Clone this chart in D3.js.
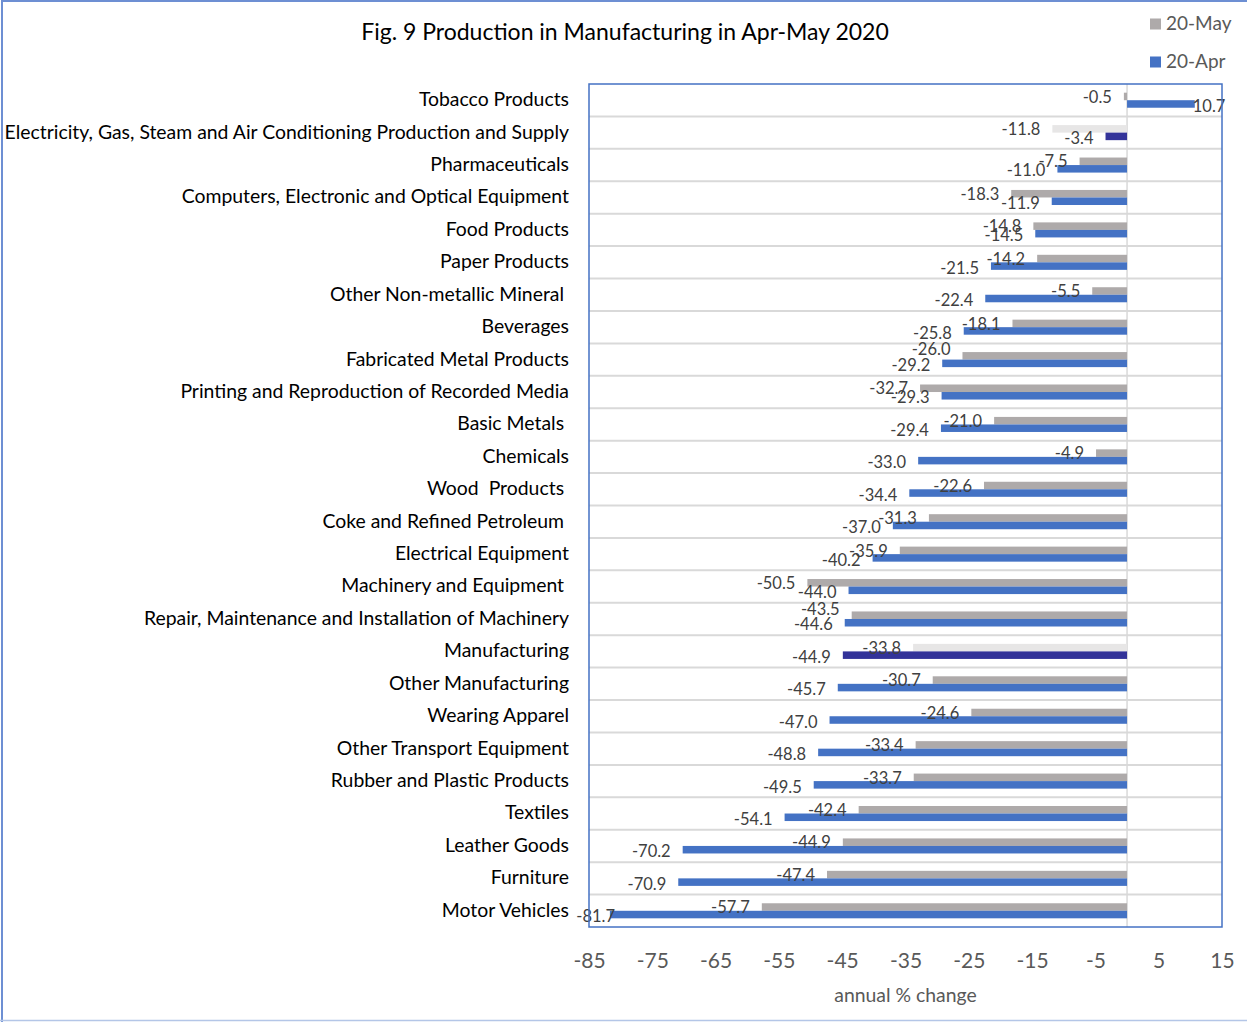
<!DOCTYPE html>
<html>
<head>
<meta charset="utf-8">
<script src="https://cdn.jsdelivr.net/npm/d3@7"></script>
<style>
  html, body { margin: 0; padding: 0; background: #fff; }
  svg { display: block; }
  text { font-family: Lato, "Open Sans", sans-serif; white-space: pre; }
</style>
</head>
<body>
<svg id="chart" width="1247" height="1022"></svg>
<script>
// Industries, top to bottom
const categories = [
  "Tobacco Products",
  "Electricity, Gas, Steam and Air Conditioning Production and Supply",
  "Pharmaceuticals",
  "Computers, Electronic and Optical Equipment",
  "Food Products",
  "Paper Products",
  "Other Non-metallic Mineral ",
  "Beverages",
  "Fabricated Metal Products",
  "Printing and Reproduction of Recorded Media",
  "Basic Metals ",
  "Chemicals",
  "Wood  Products ",
  "Coke and Refined Petroleum ",
  "Electrical Equipment",
  "Machinery and Equipment ",
  "Repair, Maintenance and Installation of Machinery",
  "Manufacturing",
  "Other Manufacturing",
  "Wearing Apparel",
  "Other Transport Equipment",
  "Rubber and Plastic Products",
  "Textiles",
  "Leather Goods",
  "Furniture",
  "Motor Vehicles"
];

// Annual % change, May 2020
const may2020 = [-0.5, -11.8, -7.5, -18.3, -14.8, -14.2, -5.5, -18.1, -26.0, -32.7,
  -21.0, -4.9, -22.6, -31.3, -35.9, -50.5, -43.5, -33.8, -30.7, -24.6,
  -33.4, -33.7, -42.4, -44.9, -47.4, -57.7];

// Annual % change, April 2020
const apr2020 = [10.7, -3.4, -11.0, -11.9, -14.5, -21.5, -22.4, -25.8, -29.2, -29.3,
  -29.4, -33.0, -34.4, -37.0, -40.2, -44.0, -44.6, -44.9, -45.7, -47.0,
  -48.8, -49.5, -54.1, -70.2, -70.9, -81.7];

const seriesNames = ["20-May", "20-Apr"];
const xTicks = [-85, -75, -65, -55, -45, -35, -25, -15, -5, 5, 15];

const title = "Fig. 9 Production in Manufacturing in Apr-May 2020";
const xTitle = "annual % change";

// Aggregates drawn with a highlighted colour pair
const highlighted = new Set([
  "Electricity, Gas, Steam and Air Conditioning Production and Supply",
  "Manufacturing"
]);

const colors = {
  may: "#aeaaaa", apr: "#4472c4",
  mayHi: "#e7e6e6", aprHi: "#333399"
};

// plain hyphen for negative numbers
const locale = d3.formatLocale({ decimal: ".", thousands: ",", grouping: [3], currency: ["", ""], minus: "-" });
const fmt = locale.format(".1f");
const fmtInt = locale.format("d");

const svg = d3.select("#chart");

// outer frame (top, left, bottom)
svg.append("line").attr("x1", 1).attr("x2", 1247).attr("y1", 1).attr("y2", 1)
  .attr("stroke", "#6d8fd3").attr("stroke-width", 2);
svg.append("line").attr("x1", 2).attr("x2", 2).attr("y1", 0).attr("y2", 1022)
  .attr("stroke", "#6d8fd3").attr("stroke-width", 2);
svg.append("line").attr("x1", 0).attr("x2", 1247).attr("y1", 1020.5).attr("y2", 1020.5)
  .attr("stroke", "#b4c6e7").attr("stroke-width", 1.5);

const plot = { left: 589, right: 1222, top: 84, bottom: 927 };

const x = d3.scaleLinear().domain([-85, 15]).range([plot.left, plot.right]);
const y = d3.scaleBand().domain(categories).range([plot.top, plot.bottom]);
const bw = y.bandwidth();
const barH = bw * 0.232;

const rows = categories.map((c, i) => ({ cat: c, may: may2020[i], apr: apr2020[i] }));

// horizontal grid lines between categories
svg.append("g").selectAll("line")
  .data(categories.slice(1))
  .join("line")
  .attr("x1", plot.left).attr("x2", plot.right)
  .attr("y1", d => y(d)).attr("y2", d => y(d))
  .attr("stroke", "#d9d9d9").attr("stroke-width", 2);

// zero line (category axis)
svg.append("line")
  .attr("x1", x(0)).attr("x2", x(0))
  .attr("y1", plot.top).attr("y2", plot.bottom)
  .attr("stroke", "#d9d9d9").attr("stroke-width", 1.5);

// bars
const g = svg.append("g");
g.selectAll("rect.may").data(rows).join("rect").attr("class", "may")
  .attr("x", d => x(Math.min(0, d.may)))
  .attr("width", d => Math.abs(x(d.may) - x(0)))
  .attr("y", d => y(d.cat) + bw / 2 - barH)
  .attr("height", barH)
  .attr("fill", d => highlighted.has(d.cat) ? colors.mayHi : colors.may);

g.selectAll("rect.apr").data(rows).join("rect").attr("class", "apr")
  .attr("x", d => x(Math.min(0, d.apr)))
  .attr("width", d => Math.abs(x(d.apr) - x(0)))
  .attr("y", d => y(d.cat) + bw / 2)
  .attr("height", barH)
  .attr("fill", d => highlighted.has(d.cat) ? colors.aprHi : colors.apr);

// data labels, nudged where they would collide
const mayNudge = { "Fabricated Metal Products": -7, "Repair, Maintenance and Installation of Machinery": -6 };

function labelX(v) {
  return v < 0 ? x(v) - 12 : x(v) - 2;
}

g.selectAll("text.lmay").data(rows).join("text").attr("class", "lmay")
  .attr("x", d => labelX(d.may))
  .attr("y", d => y(d.cat) + bw / 2 - barH / 2 + 2 + (mayNudge[d.cat] || 0))
  .attr("text-anchor", d => d.may < 0 ? "end" : "start")
  .attr("dominant-baseline", "middle")
  .attr("font-size", 16.5).attr("fill", "#404040")
  .text(d => fmt(d.may));

g.selectAll("text.lapr").data(rows).join("text").attr("class", "lapr")
  .attr("x", d => Math.max(labelX(d.apr), d.apr < 0 ? 615 : 0))
  .attr("y", d => y(d.cat) + bw / 2 + barH / 2 + 3.5)
  .attr("text-anchor", d => d.apr < 0 ? "end" : "start")
  .attr("dominant-baseline", "middle")
  .attr("font-size", 16.5).attr("fill", "#404040")
  .text(d => fmt(d.apr));

// category labels
svg.append("g").selectAll("text").data(categories).join("text")
  .attr("x", 569)
  .attr("y", d => y(d) + bw / 2 + 1)
  .attr("text-anchor", "end")
  .attr("dominant-baseline", "middle")
  .attr("font-size", 19.4).attr("fill", "#000")
  .text(d => d);

// plot frame
svg.append("rect")
  .attr("x", plot.left).attr("y", plot.top)
  .attr("width", plot.right - plot.left).attr("height", plot.bottom - plot.top)
  .attr("fill", "none").attr("stroke", "#4472c4").attr("stroke-width", 1.5);

// value axis labels
const axis = d3.axisBottom(x).tickValues(xTicks).tickSize(0).tickPadding(0).tickFormat(fmtInt);
const ax = svg.append("g").attr("transform", `translate(0, 963)`).call(axis);
ax.select(".domain").remove();
ax.selectAll("text")
  .attr("dy", null).attr("y", 0)
  .attr("dominant-baseline", "middle")
  .attr("font-family", "Lato, sans-serif")
  .attr("font-size", 21).attr("fill", "#595959");

svg.append("text")
  .attr("x", (plot.left + plot.right) / 2).attr("y", 997)
  .attr("text-anchor", "middle").attr("dominant-baseline", "middle")
  .attr("font-size", 19.4).attr("fill", "#595959")
  .text(xTitle);

// title
svg.append("text")
  .attr("x", 625).attr("y", 34)
  .attr("text-anchor", "middle").attr("dominant-baseline", "middle")
  .attr("font-size", 23).attr("fill", "#000")
  .text(title);

// legend
const legend = svg.append("g");
[colors.may, colors.apr].forEach((c, i) => {
  const ly = 25 + i * 38;
  legend.append("rect").attr("x", 1150).attr("y", ly - 6.5).attr("width", 11).attr("height", 11).attr("fill", c);
  legend.append("text").attr("x", 1166).attr("y", ly)
    .attr("dominant-baseline", "middle")
    .attr("font-size", 19).attr("fill", "#595959")
    .text(seriesNames[i]);
});
</script>
</body>
</html>
